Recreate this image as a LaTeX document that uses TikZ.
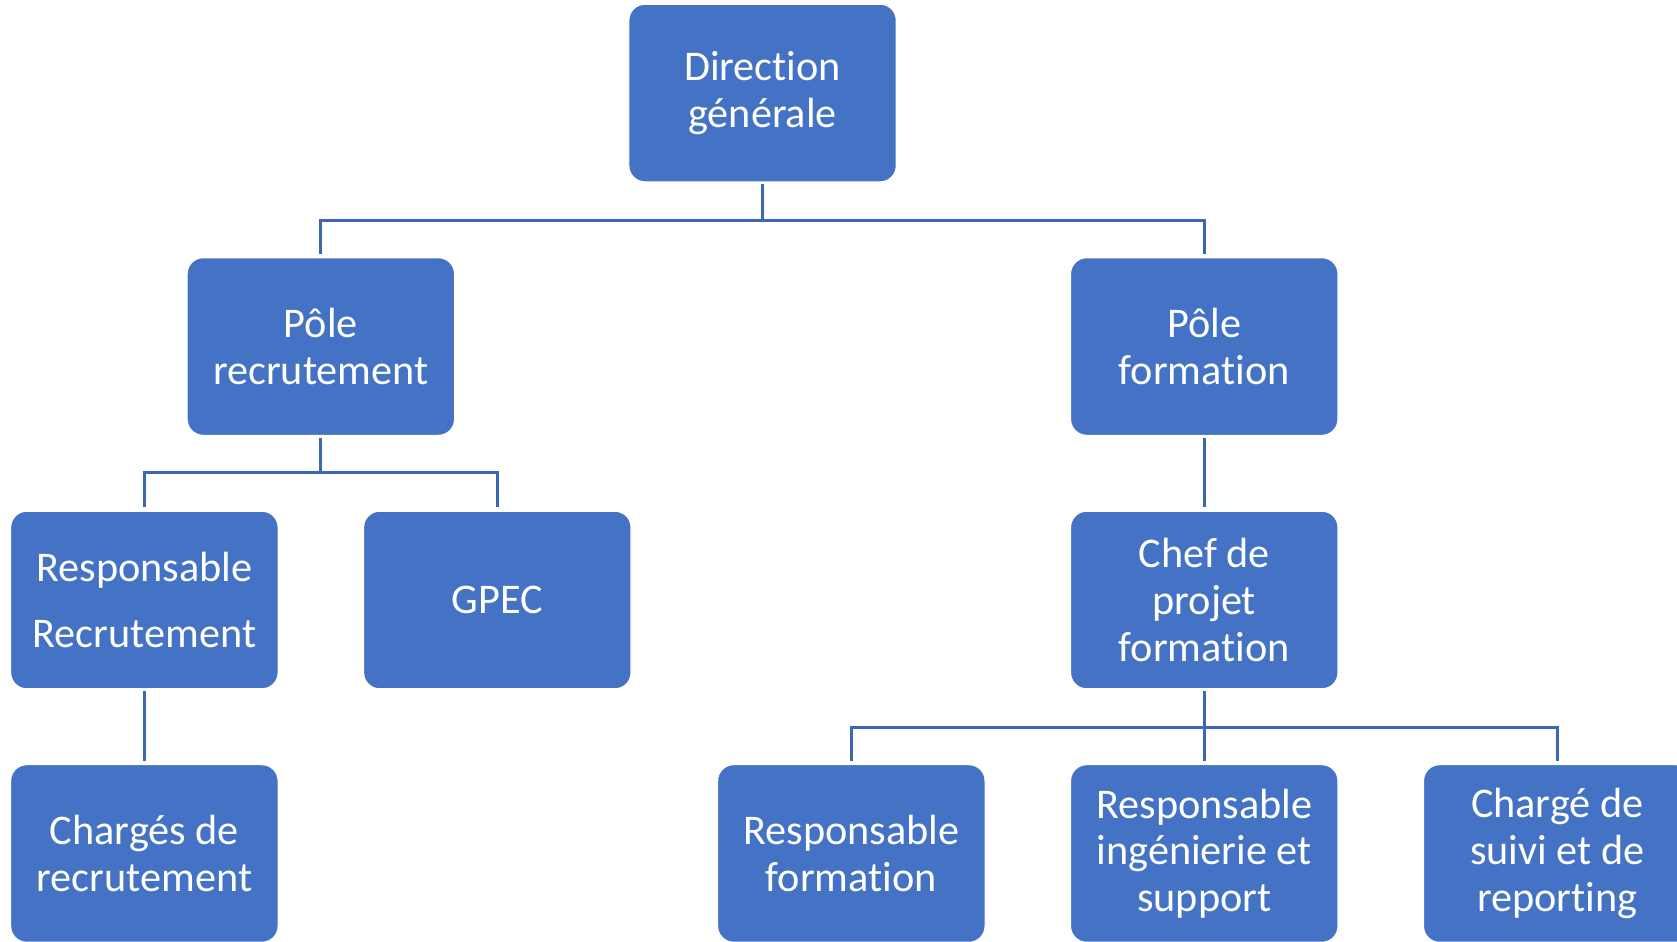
\documentclass[tikz,border=0pt]{standalone}
\usepackage{fontspec}
\setmainfont{Carlito}[Ligatures=NoCommon]
\definecolor{boxblue}{HTML}{4472C4}
\definecolor{lineblue}{HTML}{3D67B3}
\tikzset{
  orgbox/.style={fill=boxblue, draw=white, line width=1pt, rounded corners=15pt,
    minimum width=250pt, minimum height=166pt, text width=240pt, align=flush center,
    text=white, inner sep=0pt,
    font=\fontsize{39.5}{43.5}\selectfont},
  conn/.style={draw=lineblue, line width=2.6pt}
}
\begin{document}
\begin{tikzpicture}[x=1pt,y=-1pt]
\useasboundingbox (0,0) rectangle (1568,880);
\clip (0,0) rectangle (1568,880);
\fill[white] (0,0) rectangle (1568,880);
% boxes
\node[orgbox] (dg) at (713,87) {Direction\\générale};
\node[orgbox] (pr) at (300,324) {Pôle\\recrutement};
\node[orgbox] (pf) at (1126,324) {Pôle\\formation};
\node[orgbox, font=\fontsize{39.5}{61}\selectfont] (rr) at (135,561) {Responsable\\Recrutement};
\node[orgbox] (gp) at (465,561) {GPEC};
\node[orgbox] (cp) at (1126,561) {Chef de\\projet\\formation};
\node[orgbox] (cr) at (135,798) {Chargés de\\recrutement};
\node[orgbox] (rf) at (796,798) {Responsable\\formation};
\node[orgbox] (ri) at (1126,798) {Responsable\\ingénierie et\\support};
\node[orgbox] (cs) at (1456,798) {Chargé de\\suivi et de\\reporting};
% bus coordinates
\coordinate (b1) at (713,206);
\coordinate (b2) at (300,442);
\coordinate (b3) at (1126,680);
% connectors
\draw[conn, shorten <=2pt] (dg.south) -- (b1);
\draw[conn, shorten >=3pt] (b1) -| (pr.north);
\draw[conn, shorten >=3pt] (b1) -| (pf.north);
\draw[conn, shorten <=2pt] (pr.south) -- (b2);
\draw[conn, shorten >=3pt] (b2) -| (rr.north);
\draw[conn, shorten >=3pt] (b2) -| (gp.north);
\draw[conn, shorten <=2pt, shorten >=3pt] (pf.south) -- (cp.north);
\draw[conn, shorten <=2pt, shorten >=3pt] (rr.south) -- (cr.north);
\draw[conn, shorten <=2pt] (cp.south) -- (b3);
\draw[conn, shorten >=3pt] (b3) -| (rf.north);
\draw[conn, shorten >=3pt] (b3) -- (ri.north);
\draw[conn, shorten >=3pt] (b3) -| (cs.north);
\end{tikzpicture}
\end{document}
